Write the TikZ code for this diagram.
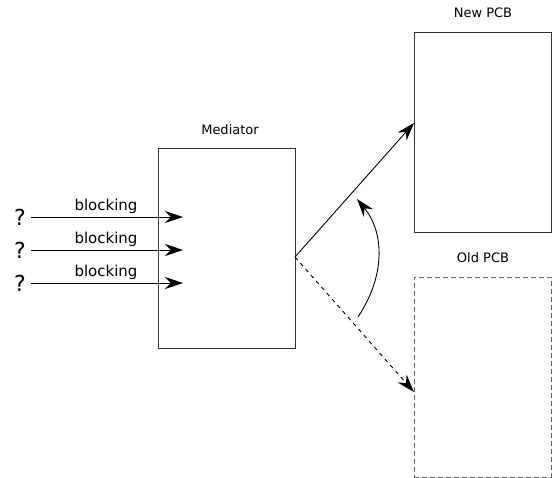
\documentclass[tikz,border=0pt]{standalone}
\usepackage{fontspec}
\setmainfont{DejaVu Sans}
\usetikzlibrary{arrows.meta,calc}
\begin{document}
\begin{tikzpicture}[x=1pt,y=-1pt,
  box/.style={draw=black!80,line width=0.9pt,minimum width=137pt,minimum height=200pt,inner sep=0pt,anchor=north west},
  dbox/.style={box,draw=black!60,dash pattern=on 5pt off 3pt},
  lbl/.style={font=\fontsize{13}{15}\selectfont},
  blk/.style={font=\fontsize{15}{17}\selectfont},
  qm/.style={font=\fontsize{22}{24}\selectfont},
  arr/.style={line width=0.9pt,-{Stealth[length=18pt,width=12pt,inset=6pt]}}]
\useasboundingbox (0,0) rectangle (552,477);
\node[box] (med) at (158,148) {};
\node[box] (new) at (414,32) {};
\node[dbox] (old) at (414,277) {};
\node[lbl] (medl) at (230,130) {Mediator};
\node[lbl] (newl) at (483,13) {New PCB};
\node[lbl] (oldl) at (483,258) {Old PCB};
\coordinate (src) at (295,257);
\coordinate (newin) at (414,123);
\coordinate (oldin) at (414,392);
\draw[arr] (src) -- (newin);
\draw[arr,dash pattern=on 4pt off 4pt] (src) -- (oldin);
\coordinate (cs) at (358,317);
\coordinate (ce) at (357,199);
\draw[arr] (cs) .. controls (386,275) and (384,232) .. (ce);
\foreach \y/\i in {217/1,250/2,283/3}{
  \node[qm] (q\i) at (20,\y) {?};
  \coordinate (e\i) at (183,\y);
  \draw[arr] (31,\y) -- (e\i);
  \node[blk] (b\i) at (106,\y-11) {blocking};
}
\end{tikzpicture}
\end{document}
